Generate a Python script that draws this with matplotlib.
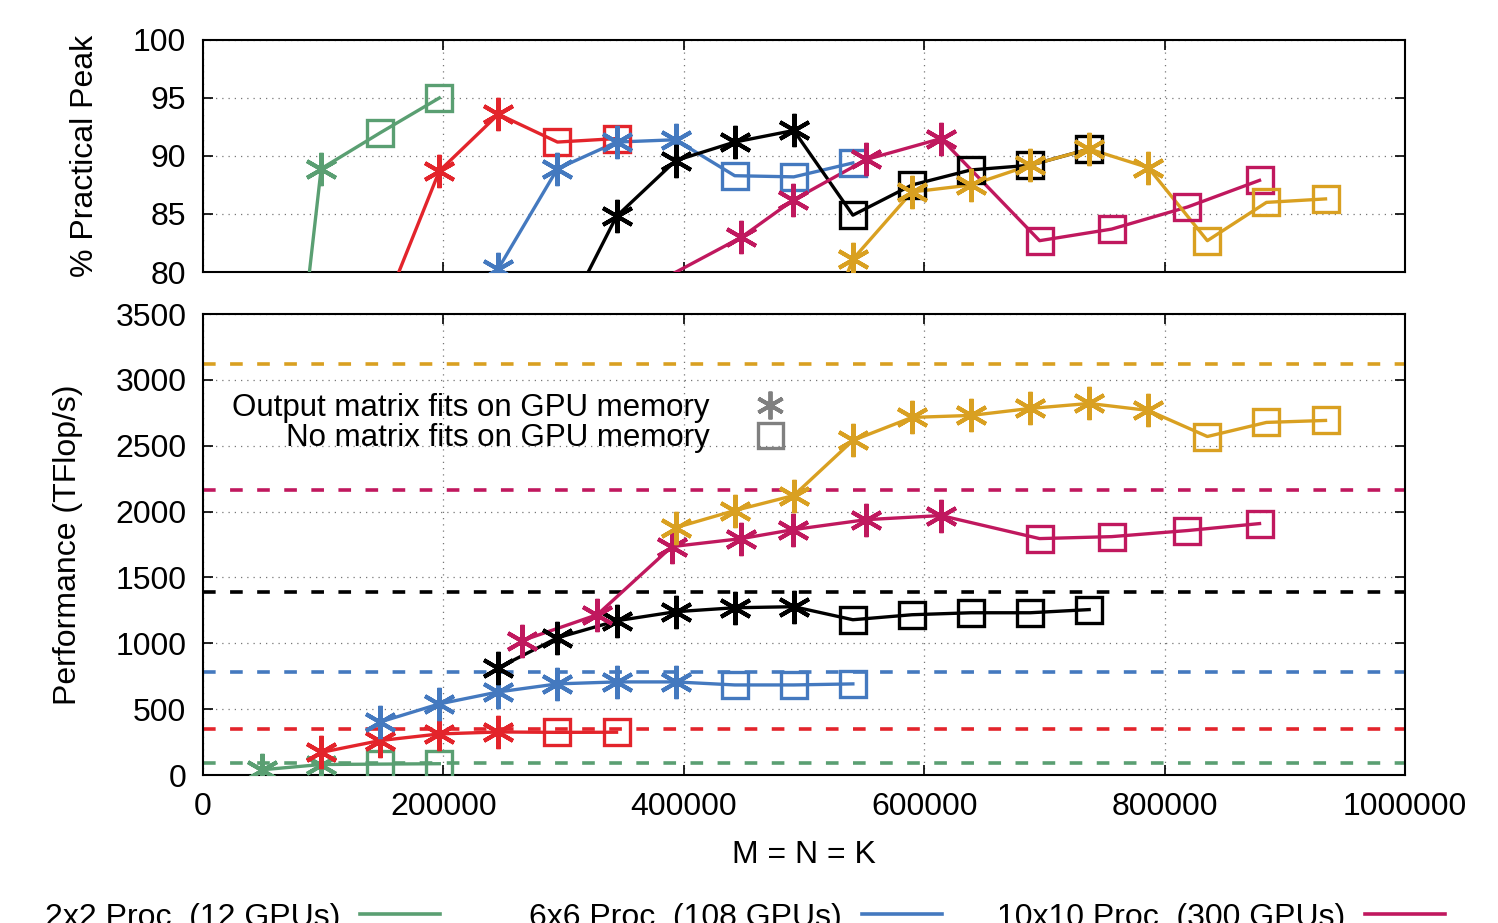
import matplotlib
matplotlib.use("Agg")
import matplotlib.pyplot as plt
from matplotlib.lines import Line2D

plt.rcParams['font.family'] = ['Liberation Sans', 'DejaVu Sans']
plt.rcParams['font.size'] = 23

# series data: matrix size, performance (TFlop/s), % practical peak, peak line
# the first n_fit points of each series are "output fits on GPU", the rest "no matrix fits"
names = ["2x2 Proc. (12 GPUs)", "4x4 Proc. (48 GPUs)", "6x6 Proc. (108 GPUs)",
         "8x8 Proc. (192 GPUs)", "10x10 Proc. (300 GPUs)", "12x12 Proc. (432 GPUs)"]
colors = ['#5a9f72', '#e3242b', '#4479bf', '#000000', '#c0185e', '#d9a021']

green_x = [49152, 98304, 147456, 196608]
green_perf = [40, 80, 83, 86]
green_pct = [44, 88.9, 92.0, 95.0]
green_peak = 91
green_nfit = 2

red_x = [98304, 147456, 196608, 245760, 294912, 344064]
red_perf = [172, 262, 312, 327, 324, 325]
red_pct = [50, 76, 88.7, 93.6, 91.2, 91.5]
red_peak = 350
red_nfit = 4

blue_x = [147456, 196608, 245760, 294912, 344064, 393216, 442368, 491520, 540672]
blue_perf = [403, 540, 631, 692, 707, 707, 684, 684, 692]
blue_pct = [51, 69, 80.3, 88.9, 91.2, 91.4, 88.3, 88.2, 89.4]
blue_peak = 783
blue_nfit = 6

black_x = [245760, 294912, 344064, 393216, 442368, 491520, 540672, 589824, 638976, 688128, 737280]
black_perf = [814, 1042, 1171, 1240, 1270, 1278, 1179, 1217, 1232, 1232, 1256]
black_pct = [58, 74.8, 84.8, 89.6, 91.2, 92.2, 84.9, 87.5, 88.8, 89.2, 90.6]
black_peak = 1392
black_nfit = 6

mag_x = [265000, 328000, 390000, 448000, 491000, 552000, 614000, 696000, 756000, 819000, 879000]
mag_perf = [1019, 1217, 1734, 1795, 1863, 1939, 1970, 1795, 1810, 1856, 1909]
mag_pct = [46.6, 56.2, 79.8, 83.0, 86.2, 89.7, 91.5, 82.7, 83.7, 85.6, 87.9]
mag_peak = 2167
mag_nfit = 7

gold_x = [393216, 442368, 491520, 540672, 589824, 638976, 688128, 737280, 786432, 835584, 884736, 933888]
gold_perf = [1878, 2008, 2122, 2540, 2715, 2730, 2783, 2821, 2768, 2570, 2677, 2692]
gold_pct = [60, 64, 68, 81.1, 86.9, 87.5, 89.2, 90.6, 89.0, 82.7, 86.0, 86.3]
gold_peak = 3118
gold_nfit = 9

series = [
    (green_x, green_perf, green_pct, green_peak, green_nfit),
    (red_x, red_perf, red_pct, red_peak, red_nfit),
    (blue_x, blue_perf, blue_pct, blue_peak, blue_nfit),
    (black_x, black_perf, black_pct, black_peak, black_nfit),
    (mag_x, mag_perf, mag_pct, mag_peak, mag_nfit),
    (gold_x, gold_perf, gold_pct, gold_peak, gold_nfit),
]

x_ticks = [0, 200000, 400000, 600000, 800000, 1000000]

star = (6, 2, 0)
lw = 2.4
ms_star = 24
ms_sq = 19


def draw(ax, x, y, nfit, c, ymin):
    ax.plot(x, y, color=c, lw=lw, zorder=3)
    # like gnuplot, points outside the y range are not drawn
    sx = [a for i, (a, b) in enumerate(zip(x, y)) if i < nfit and b >= ymin]
    sy = [b for i, (a, b) in enumerate(zip(x, y)) if i < nfit and b >= ymin]
    qx = [a for i, (a, b) in enumerate(zip(x, y)) if i >= nfit and b >= ymin]
    qy = [b for i, (a, b) in enumerate(zip(x, y)) if i >= nfit and b >= ymin]
    ax.plot(sx, sy, ls='none', marker=star, ms=ms_star, mew=2.9, color=c, zorder=4)
    ax.plot(qx, qy, ls='none', marker='s', ms=ms_sq, mew=lw, mfc='none', mec=c, zorder=4)


fig = plt.figure(figsize=(14.98, 9.23), dpi=100)
ax_top = fig.add_axes([0.1355, 0.7053, 0.8024, 0.2514])
ax_bot = fig.add_axes([0.1355, 0.1603, 0.8024, 0.4995])

for ax in (ax_top, ax_bot):
    ax.set_xlim(0, 1000000)
    ax.set_xticks(x_ticks)
    ax.set_xticklabels([str(t) for t in x_ticks])
    ax.grid(True, linestyle=(0, (1, 4)), color='#777777', linewidth=0.9)
    ax.tick_params(direction='in', length=7, width=1.2, top=True, right=True)
    for s in ax.spines.values():
        s.set_linewidth(1.5)

for (x, perf, pct, peak, nfit), c in zip(series, colors):
    draw(ax_top, x, pct, nfit, c, 80)
    ax_bot.axhline(peak, color=c, lw=2.6, ls=(0, (3.5, 4)), zorder=2)
    draw(ax_bot, x, perf, nfit, c, 0)

ax_top.set_ylim(80, 100)
ax_top.set_yticks([80, 85, 90, 95, 100])
ax_top.tick_params(labelbottom=False, pad=12)
ax_top.set_ylabel("% Practical Peak")
ax_top.yaxis.set_label_coords(-0.086, 0.5)

ax_bot.set_ylim(0, 3500)
ax_bot.set_yticks(range(0, 3501, 500))
ax_bot.tick_params(axis='y', pad=12)
ax_bot.tick_params(axis='x', pad=12)
ax_bot.set_ylabel("Performance (TFlop/s)")
ax_bot.yaxis.set_label_coords(-0.100, 0.5)
ax_bot.set_xlabel("M = N = K")
ax_bot.xaxis.set_label_coords(0.5, -0.141)

handles = [
    Line2D([], [], ls='none', marker=star, ms=20, mew=2.8, color='#808080'),
    Line2D([], [], ls='none', marker='s', ms=18, mew=lw, mfc='none', mec='#808080'),
]
ax_bot.legend(handles, ["Output matrix fits on GPU memory", "No matrix fits on GPU memory"],
              loc='upper left', bbox_to_anchor=(0.024, 0.829), markerfirst=False,
              frameon=False, borderpad=0, borderaxespad=0, handlelength=1.4,
              handletextpad=1.25, labelspacing=0.0, fontsize=22.5)

# bottom legend row (cut off by the figure edge, as in the original)
legend_names = [names[0], names[2], names[4]]
legend_colors = [colors[0], colors[2], colors[4]]
text_right = [340, 842, 1345]
for name, c, xr in zip(legend_names, legend_colors, text_right):
    fig.text(xr / 1498, (923 - 926) / 923, name, ha='right', va='baseline', fontsize=23)
    fig.add_artist(Line2D([(xr + 20) / 1498, (xr + 100) / 1498],
                          [(923 - 914) / 923] * 2, color=c, lw=2.6,
                          transform=fig.transFigure))

fig.savefig("out.png", dpi=100)
